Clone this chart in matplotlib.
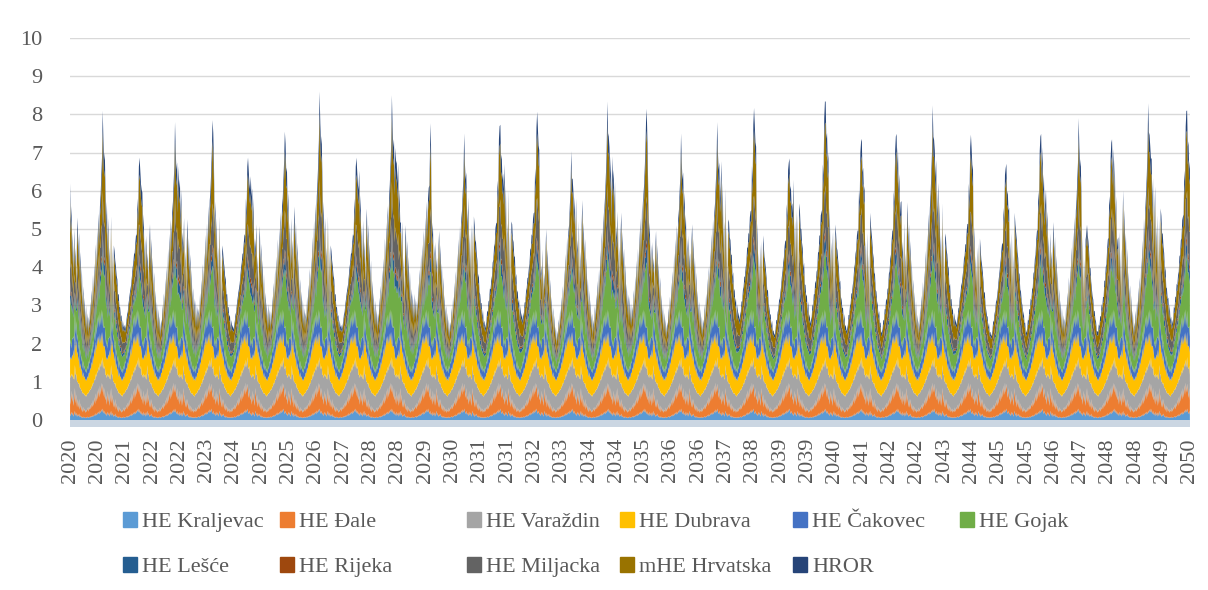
import numpy as np
import matplotlib
matplotlib.use("Agg")
import matplotlib.pyplot as plt
from matplotlib.patches import Patch

plt.rcParams['font.family'] = ['Liberation Serif', 'DejaVu Serif']

# series names and colours (Excel default palette)
names = ["HE Kraljevac", "HE Đale", "HE Varaždin", "HE Dubrava", "HE Čakovec", "HE Gojak",
         "HE Lešće", "HE Rijeka", "HE Miljacka", "mHE Hrvatska", "HROR"]
colors = ["#5B9BD5", "#ED7D31", "#A5A5A5", "#FFC000", "#4472C4", "#70AD47",
          "#255E91", "#9E480E", "#636363", "#997300", "#264478"]

years = list(range(2020, 2051))
weeks = 52

# highest weekly value in each year
main_peak = [8.1, 7.3, 7.8, 8.3, 7.3, 8.0, 8.6, 7.3, 8.5, 8.45, 7.5, 8.1, 8.5, 7.0, 8.3, 8.6,
             7.5, 7.8, 8.6, 7.15, 8.75, 7.7, 7.8, 8.2, 7.9, 7.0, 7.8, 7.9, 7.7, 8.3, 8.5]
# week of the year in which that spike falls
peak_week = [47, 48, 47, 49, 48, 49, 47, 48, 47, 51, 47, 46, 48, 45, 45, 49,
             47, 47, 48, 46, 46, 46, 44, 45, 48, 46, 44, 47, 42, 43, 46]

# typical weekly total of a year (peak year 2020)
total_week = [6.2, 5.2, 5.6, 4.3, 4.9, 3.8, 5.0, 4.1, 4.5, 3.4, 4.8, 5.3, 4.3, 4.9, 3.9, 4.4,
              3.4, 4.0, 3.0, 3.5, 2.8, 3.2, 2.5, 3.0, 2.4, 2.8, 2.3, 2.7, 2.5, 3.1, 2.7, 3.4,
              3.0, 3.8, 3.2, 4.1, 3.5, 4.6, 3.9, 5.0, 4.3, 5.4, 4.8, 5.6, 5.9, 6.4, 6.9, 8.1,
              7.3, 6.8, 7.0, 6.0]

# weekly values of the lower run-of-river plants
kraljevac = [0.18, 0.10, 0.22, 0.12, 0.20, 0.09, 0.16, 0.24, 0.11, 0.19, 0.08, 0.15, 0.10,
             0.17, 0.07, 0.12, 0.06, 0.10, 0.05, 0.09, 0.06, 0.08, 0.05, 0.07, 0.06, 0.09,
             0.05, 0.08, 0.07, 0.10, 0.06, 0.11, 0.08, 0.13, 0.09, 0.15, 0.10, 0.18, 0.12,
             0.20, 0.14, 0.22, 0.15, 0.25, 0.18, 0.28, 0.20, 0.30, 0.22, 0.16, 0.24, 0.14]
dale = [0.45, 0.30, 0.55, 0.35, 0.50, 0.28, 0.42, 0.60, 0.33, 0.48, 0.25, 0.40, 0.22,
        0.38, 0.20, 0.32, 0.18, 0.28, 0.15, 0.25, 0.16, 0.22, 0.14, 0.20, 0.15, 0.24,
        0.17, 0.26, 0.20, 0.30, 0.22, 0.34, 0.26, 0.40, 0.28, 0.45, 0.32, 0.52, 0.36,
        0.58, 0.40, 0.62, 0.44, 0.66, 0.48, 0.70, 0.52, 0.65, 0.55, 0.42, 0.60, 0.38]
varazdin = [0.55, 0.70, 0.45, 0.65, 0.50, 0.72, 0.48, 0.60, 0.75, 0.52, 0.68, 0.45, 0.62,
            0.42, 0.58, 0.40, 0.55, 0.38, 0.50, 0.36, 0.48, 0.35, 0.46, 0.34, 0.45, 0.36,
            0.48, 0.38, 0.50, 0.40, 0.52, 0.42, 0.55, 0.45, 0.58, 0.48, 0.62, 0.50, 0.65,
            0.52, 0.68, 0.55, 0.70, 0.58, 0.72, 0.60, 0.65, 0.70, 0.62, 0.75, 0.58, 0.66]
dubrava = [0.40, 0.55, 0.35, 0.60, 0.45, 0.75, 0.55, 0.85, 0.65, 0.90, 0.70, 0.80, 0.60,
           0.72, 0.50, 0.65, 0.48, 0.60, 0.42, 0.55, 0.40, 0.50, 0.38, 0.48, 0.36, 0.46,
           0.40, 0.52, 0.45, 0.58, 0.50, 0.65, 0.55, 0.72, 0.60, 0.80, 0.65, 0.85, 0.70,
           0.88, 0.75, 0.82, 0.68, 0.78, 0.62, 0.72, 0.58, 0.66, 0.52, 0.62, 0.48, 0.58]
cakovec = [0.35, 0.45, 0.30, 0.40, 0.50, 0.35, 0.45, 0.55, 0.40, 0.50, 0.35, 0.45, 0.30,
           0.40, 0.28, 0.36, 0.25, 0.33, 0.22, 0.30, 0.20, 0.28, 0.22, 0.26, 0.20, 0.27,
           0.22, 0.30, 0.25, 0.33, 0.28, 0.36, 0.30, 0.40, 0.33, 0.44, 0.36, 0.48, 0.40,
           0.52, 0.42, 0.55, 0.45, 0.58, 0.48, 0.60, 0.50, 0.55, 0.52, 0.46, 0.56, 0.42]

# shares of the remaining (upper) part: Gojak, Lešće, Rijeka, Miljacka, mHE Hrvatska, HROR
upper_share = [0.30, 0.07, 0.03, 0.20, 0.30, 0.10]

tick_labels = ["2020", "2020", "2021", "2022", "2022", "2023", "2024", "2025", "2025", "2026",
               "2027", "2028", "2028", "2029", "2030", "2031", "2031", "2032", "2033", "2034",
               "2034", "2035", "2036", "2036", "2037", "2038", "2039", "2039", "2040", "2041",
               "2042", "2042", "2043", "2044", "2045", "2045", "2046", "2047", "2048", "2048",
               "2049", "2050"]

# build weekly series
lower = [np.array(s) for s in [kraljevac, dale, varazdin, dubrava, cakovec]]
lower_sum = np.sum(lower, axis=0)
upper_week = np.clip(np.array(total_week) - lower_sum, 0.1, None)

lower_all = [np.tile(s, len(years)) for s in lower]
upper_all = []
for i, yr in enumerate(years):
    s = (main_peak[i] - lower_sum[47]) / upper_week[47]
    upper_all.append(np.roll(upper_week, peak_week[i] - 47) * s)
upper_all = np.concatenate(upper_all)

series = lower_all + [upper_all * f for f in upper_share]
x = np.arange(len(years) * weeks)

fig = plt.figure(figsize=(12.08, 5.90), dpi=100)
ax = fig.add_axes([0.058, 0.2764, 0.927, 0.6592])

ax.stackplot(x, *series, colors=colors, labels=names, linewidth=0)
ax.axhspan(-0.18, 0, color="#cbd6e2", lw=0)

ax.set_ylim(-0.18, 10)
ax.set_xlim(0, len(x) - 1)
ax.set_yticks(range(0, 11))
ax.grid(axis="y", color="#d9d9d9", lw=1)
ax.set_axisbelow(True)
for sp in ax.spines.values():
    sp.set_visible(False)

ax.set_xticks(np.linspace(0, len(x) - 1, len(tick_labels)))
ax.set_xticklabels(tick_labels, rotation=90)
ax.tick_params(axis="x", length=0, pad=8, labelsize=16, colors="#595959")
ax.tick_params(axis="y", length=0, pad=20, labelsize=16, colors="#595959")

# legend laid out like Excel: six columns, two rows
handles = [Patch(color=c) for c in colors]
col_x = [123, 280, 467, 620, 793, 960]
for j, cx in enumerate(col_x):
    idx = [j, j + 6] if j + 6 < len(names) else [j]
    fig.legend([handles[k] for k in idx], [names[k] for k in idx],
               loc="upper left", bbox_to_anchor=(cx / 1208, 1 - 512 / 590),
               frameon=False, fontsize=16, handlelength=0.65, handleheight=0.65,
               handletextpad=0.2, labelspacing=1.12, borderpad=0, borderaxespad=0,
               labelcolor="#595959")

plt.savefig("out.png", dpi=100)
